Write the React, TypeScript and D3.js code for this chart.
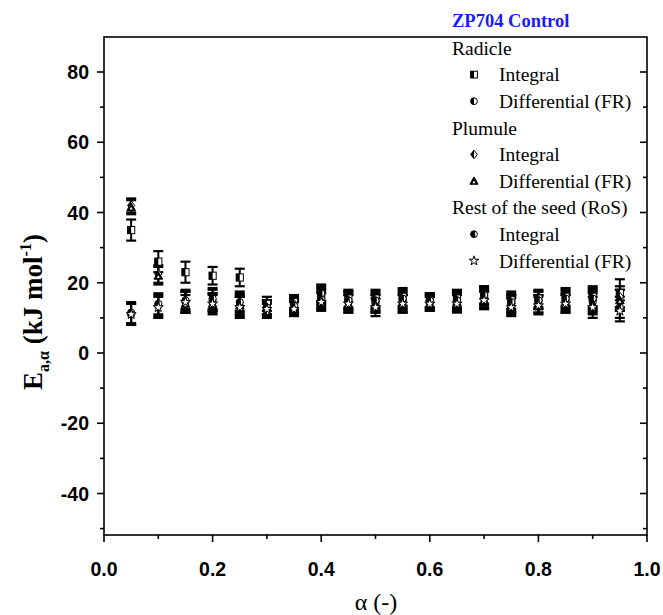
import React from "react";
import * as d3 from "d3";

const alpha = [0.05, 0.1, 0.15, 0.2, 0.25, 0.3, 0.35, 0.4, 0.45, 0.5, 0.55, 0.6, 0.65, 0.7, 0.75, 0.8, 0.85, 0.9, 0.95];

const radicleIntegral = [35, 26, 23, 22, 21.5, 14, 14.5, 16, 15.5, 15.5, 16, 15, 15.5, 16.5, 15, 15.5, 16, 16, 17];
const radicleIntegralErr = [3, 3, 3, 2.5, 2.5, 2, 2, 2.5, 2.5, 2.5, 2.5, 2, 2.5, 2.5, 2.5, 2.5, 2.5, 3, 4];
const radicleDiff = [11.5, 13.5, 14.5, 15, 13.5, 12, 13, 16.5, 14.5, 14, 14.5, 14.5, 14.5, 15.5, 14, 14, 14.5, 14.5, 15];
const radicleDiffErr = [3, 3, 3, 3, 3, 2, 2, 2.5, 2.5, 2.5, 2.5, 2, 2.5, 2.5, 2.5, 2.5, 2.5, 3, 3];
const plumuleIntegral = [42, 22.5, 15, 14.5, 14.5, 13, 14, 15.5, 15, 14.5, 15, 14.5, 15, 16, 14, 15, 15, 15, 16];
const plumuleIntegralErr = [2, 2.5, 2.5, 2.5, 2.5, 2, 2, 2.5, 2.5, 2.5, 2.5, 2, 2.5, 2.5, 2.5, 2.5, 2.5, 3, 3];
const plumuleDiff = [41.5, 22, 14, 14, 13.5, 13, 13.5, 15, 14, 14, 14, 14, 14.5, 15, 13.5, 14, 14, 14, 15];
const plumuleDiffErr = [2, 2.5, 2.5, 2.5, 2.5, 2, 2, 2.5, 2.5, 2.5, 2.5, 2, 2.5, 2.5, 2.5, 2.5, 2.5, 3, 3];
const rosIntegral = [11, 14, 15, 15.5, 14.5, 13, 13.5, 17, 15, 15, 15.5, 15, 15, 16.5, 14.5, 15, 15.5, 15.5, 13];
const rosIntegralErr = [3, 3, 3, 3, 3, 2, 2, 2.5, 2.5, 2.5, 2.5, 2, 2.5, 2.5, 2.5, 2.5, 2.5, 3, 3];
const rosDiff = [11, 13, 14.5, 14, 13, 12.5, 12.5, 14.5, 14, 13, 14, 14, 14, 15, 13, 13.5, 14, 13, 12];
const rosDiffErr = [3, 3, 3, 3, 3, 2, 2, 2.5, 2.5, 2.5, 2.5, 2, 2.5, 2.5, 2.5, 2.5, 2.5, 3, 3];

const xTicks = [0.0, 0.2, 0.4, 0.6, 0.8, 1.0];
const yTicks = [-40, -20, 0, 20, 40, 60, 80];

type Shape = "square" | "circleL" | "diamond" | "triangle" | "circleR" | "star";

const seriesList: { name: string; values: number[]; errs: number[]; shape: Shape }[] = [
  { name: "Radicle Integral", values: radicleIntegral, errs: radicleIntegralErr, shape: "square" },
  { name: "Radicle Differential (FR)", values: radicleDiff, errs: radicleDiffErr, shape: "circleL" },
  { name: "Plumule Integral", values: plumuleIntegral, errs: plumuleIntegralErr, shape: "diamond" },
  { name: "Plumule Differential (FR)", values: plumuleDiff, errs: plumuleDiffErr, shape: "triangle" },
  { name: "RoS Integral", values: rosIntegral, errs: rosIntegralErr, shape: "circleR" },
  { name: "RoS Differential (FR)", values: rosDiff, errs: rosDiffErr, shape: "star" },
];

const legendRows: { text: string; shape?: Shape }[] = [
  { text: "Radicle" },
  { text: "Integral", shape: "square" },
  { text: "Differential (FR)", shape: "circleL" },
  { text: "Plumule" },
  { text: "Integral", shape: "diamond" },
  { text: "Differential (FR)", shape: "triangle" },
  { text: "Rest of the seed (RoS)" },
  { text: "Integral", shape: "circleR" },
  { text: "Differential (FR)", shape: "star" },
];

function Marker({ shape, x, y, s = 3.6 }: { shape: Shape; x: number; y: number; s?: number }) {
  const sw = 1;
  if (shape === "square") {
    return (
      <g>
        <rect x={x - s} y={y - s} width={2 * s} height={2 * s} fill="#fff" stroke="#000" strokeWidth={sw} />
        <rect x={x - s} y={y - s} width={s} height={2 * s} fill="#000" />
      </g>
    );
  }
  if (shape === "circleL" || shape === "circleR") {
    const r = s;
    const off = shape === "circleR" ? r * 0.35 : 0;
    const half = `M${x + off},${y - Math.sqrt(r * r - off * off)} A${r},${r} 0 ${shape === "circleR" ? 1 : 0} 0 ${x + off},${y + Math.sqrt(r * r - off * off)} Z`;
    return (
      <g>
        <circle cx={x} cy={y} r={r} fill="#fff" stroke="#000" strokeWidth={sw} />
        <path d={half} fill="#000" />
      </g>
    );
  }
  if (shape === "diamond") {
    const d = s * 1.25;
    return (
      <g>
        <path d={`M${x},${y - d} L${x + d * 0.8},${y} L${x},${y + d} L${x - d * 0.8},${y} Z`} fill="#fff" stroke="#000" strokeWidth={sw} />
        <path d={`M${x},${y - d} L${x},${y + d} L${x - d * 0.8},${y} Z`} fill="#000" />
      </g>
    );
  }
  if (shape === "triangle") {
    const d = s * 1.2;
    return (
      <g>
        <path d={`M${x},${y - d} L${x + d},${y + d * 0.8} L${x - d},${y + d * 0.8} Z`} fill="#000" stroke="#000" strokeWidth={sw} />
        <path d={`M${x},${y - d * 0.1} L${x + d * 0.35},${y + d * 0.55} L${x - d * 0.35},${y + d * 0.55} Z`} fill="#fff" />
      </g>
    );
  }
  const star = d3.symbol().type(d3.symbolStar).size(s * s * 2.4)();
  return <path d={star || ""} transform={`translate(${x},${y})`} fill="#fff" stroke="#000" strokeWidth={sw} />;
}

export default function App() {
  const W = 663;
  const H = 615;
  const left = 104;
  const right = 647;
  const top = 37;
  const bottom = 535;
  const x = d3.scaleLinear().domain([0, 1]).range([left, right]);
  const y = d3.scaleLinear().domain([0, 80]).range([353, 72]);
  const xMinor = d3.range(0, 1.0001, 0.1);
  const yMinor = d3.range(-50, 90.001, 10).filter((v) => y(v) <= bottom && y(v) >= top);
  const tickFont = "'Liberation Sans', Arial, sans-serif";
  const serif = "'Liberation Serif', 'Times New Roman', serif";

  return (
    <svg width={W} height={H} style={{ position: "absolute", left: 0, top: 0, background: "#fff" }}>
      <rect width={W} height={H} fill="#fff" />
      <rect x={left} y={top} width={right - left} height={bottom - top} fill="none" stroke="#000" strokeWidth={1.6} />
      {yMinor.map((v) => {
        const major = yTicks.includes(Math.round(v));
        const len = major ? 7 : 4;
        return (
          <g key={"yt" + v}>
            <line x1={left - len} x2={left} y1={y(v)} y2={y(v)} stroke="#000" strokeWidth={1.6} />
            <line x1={right - len} x2={right} y1={y(v)} y2={y(v)} stroke="#000" strokeWidth={1.6} />
          </g>
        );
      })}
      {yTicks.map((v) => (
        <text key={"yl" + v} x={left - 15} y={y(v)} dy="0.36em" textAnchor="end" fontFamily={tickFont} fontSize={19.5} fontWeight={700}>
          {v}
        </text>
      ))}
      {xMinor.map((v, i) => {
        const major = i % 2 === 0;
        const len = major ? 7 : 4;
        return <line key={"xt" + i} x1={x(v)} x2={x(v)} y1={bottom} y2={bottom + len} stroke="#000" strokeWidth={1.6} />;
      })}
      {xTicks.map((v) => (
        <text key={"xl" + v} x={x(v)} y={bottom + 41} textAnchor="middle" fontFamily={tickFont} fontSize={19.5} fontWeight={700}>
          {v.toFixed(1)}
        </text>
      ))}
      <text x={376} y={610} textAnchor="middle" fontFamily={serif} fontSize={24}>
        α (-)
      </text>
      <text transform="translate(42,312) rotate(-90)" textAnchor="middle" fontFamily={serif} fontSize={27} fontWeight={700}>
        <tspan>E</tspan>
        <tspan fontSize={16} dy={7}>a,α</tspan>
        <tspan dy={-7}> (kJ mol</tspan>
        <tspan fontSize={16} dy={-11}>-1</tspan>
        <tspan dy={11}>)</tspan>
      </text>
      {seriesList.map((s) => (
        <g key={s.name}>
          {alpha.map((a, i) => {
            const cx = x(a);
            const v = s.values[i];
            const e = s.errs[i];
            return (
              <g key={i}>
                <line x1={cx} x2={cx} y1={y(v - e)} y2={y(v + e)} stroke="#000" strokeWidth={2} />
                <line x1={cx - 5} x2={cx + 5} y1={y(v - e)} y2={y(v - e)} stroke="#000" strokeWidth={2.2} />
                <line x1={cx - 5} x2={cx + 5} y1={y(v + e)} y2={y(v + e)} stroke="#000" strokeWidth={2.2} />
              </g>
            );
          })}
        </g>
      ))}
      {seriesList.map((s) => (
        <g key={s.name + "m"}>
          {alpha.map((a, i) => (
            <Marker key={i} shape={s.shape} x={x(a)} y={y(s.values[i])} />
          ))}
        </g>
      ))}
      <text x={452} y={27} fontFamily={serif} fontSize={18.5} fontWeight={700} fill="#1a1aff">
        ZP704 Control
      </text>
      {legendRows.map((r, i) => {
        const cy = 48 + i * 26.6;
        return (
          <g key={"lg" + i}>
            {r.shape ? (
              <>
                <Marker shape={r.shape} x={474} y={cy} s={3.4} />
                <text x={499} y={cy} dy="0.35em" fontFamily={serif} fontSize={19.5}>
                  {r.text}
                </text>
              </>
            ) : (
              <text x={452} y={cy} dy="0.35em" fontFamily={serif} fontSize={19.5}>
                {r.text}
              </text>
            )}
          </g>
        );
      })}
    </svg>
  );
}
